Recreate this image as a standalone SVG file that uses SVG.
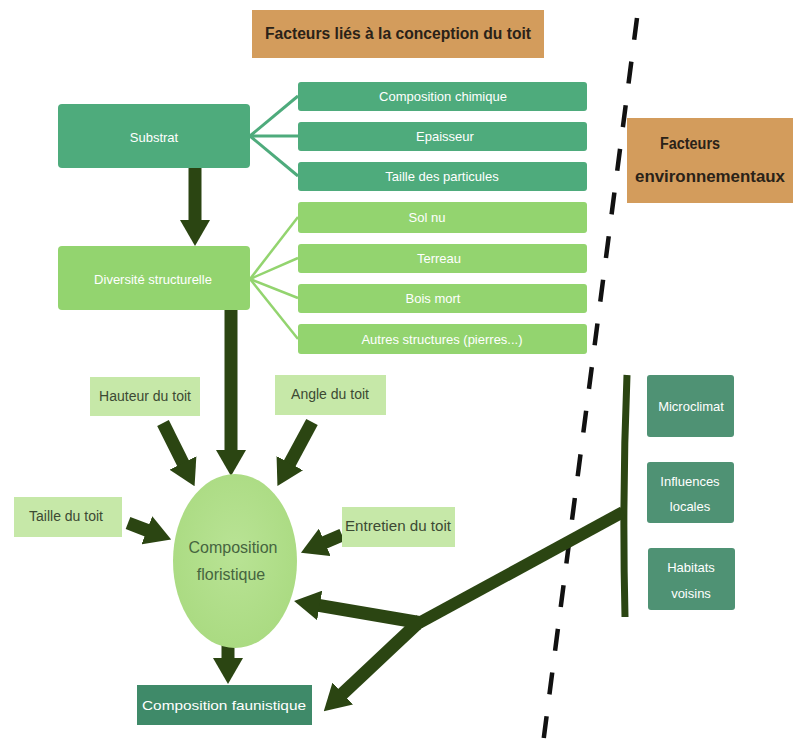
<svg xmlns="http://www.w3.org/2000/svg" width="793" height="744" viewBox="0 0 793 744">
<style>
.t{font-family:"Liberation Sans",Arial,sans-serif;text-anchor:middle}
.w{fill:#ffffff;font-size:13px}
.d{fill:#3c4a33;font-size:14px}
.b{fill:#2a2218;font-size:16px;font-weight:bold}
.teal{fill:#4eab7c}
.lg{fill:#93d46f}
.pg{fill:#c6e8a8}
.dk{fill:#3f8a69}
.env{fill:#4f9274}
.org{fill:#d39c5c}
.arr{stroke:#2b4512;stroke-width:13;fill:none;marker-end:url(#ah)}
</style>
<defs>
<marker id="ah" markerUnits="userSpaceOnUse" viewBox="0 -15 26 30" refX="1" refY="0" markerWidth="26" markerHeight="30" orient="auto">
<path d="M0,-15 L26,0 L0,15 z" fill="#2b4512"/>
</marker>
<radialGradient id="eg" cx="50%" cy="45%" r="60%">
<stop offset="0" stop-color="#b9e395"/>
<stop offset="1" stop-color="#a9da80"/>
</radialGradient>
</defs>
<rect width="793" height="744" fill="#ffffff"/>

<g id="dashed-divider">
<line x1="637" y1="18" x2="543" y2="744" stroke="#111" stroke-width="4.5" stroke-dasharray="22 22"/>
</g>

<g id="connectors">
<g stroke="#4eab7c" stroke-width="3" fill="none">
<line x1="250" y1="136" x2="298" y2="96"/>
<line x1="250" y1="136" x2="298" y2="136"/>
<line x1="250" y1="136" x2="298" y2="176"/>
</g>
<g stroke="#93d46f" stroke-width="2.5" fill="none">
<line x1="250" y1="279" x2="298" y2="217"/>
<line x1="250" y1="279" x2="298" y2="258"/>
<line x1="250" y1="279" x2="298" y2="298"/>
<line x1="250" y1="279" x2="298" y2="339"/>
</g>
<line class="arr" x1="195" y1="168" x2="195" y2="221"/>
<line class="arr" x1="231" y1="310" x2="231" y2="451"/>
<line class="arr" x1="163" y1="423" x2="183.4" y2="463.8"/>
<line class="arr" x1="312" y1="422" x2="289.3" y2="464.1"/>
<line class="arr" x1="128" y1="523" x2="147.8" y2="530.6"/>
<line class="arr" x1="342" y1="535" x2="323.9" y2="542.8"/>
<line class="arr" x1="228" y1="632" x2="228" y2="659"/>
<path d="M627,375 Q622,495 625,617" stroke="#2b4512" stroke-width="7" fill="none"/>
<line x1="623" y1="512" x2="419" y2="623" stroke="#2b4512" stroke-width="12"/>
<line class="arr" x1="422" y1="623" x2="318.7" y2="605.3"/>
<line class="arr" x1="421" y1="620" x2="342" y2="694.2"/>
</g>

<g id="title">
<rect class="org" x="252" y="10" width="292" height="48"/>
<text class="t b" x="398" y="39" textLength="266" lengthAdjust="spacingAndGlyphs">Facteurs liés à la conception du toit</text>
</g>

<g id="env-title">
<rect class="org" x="627" y="118" width="166" height="85"/>
<text class="t b" x="690" y="149" textLength="60" lengthAdjust="spacingAndGlyphs">Facteurs</text>
<text class="t b" x="710" y="182" textLength="150" lengthAdjust="spacingAndGlyphs">environnementaux</text>
</g>

<g id="substrat">
<rect class="teal" x="58" y="104" width="192" height="64" rx="4"/>
<text class="t w" x="154" y="142">Substrat</text>
</g>
<g id="composition-chimique">
<rect class="teal" x="298" y="82" width="289" height="29" rx="3"/>
<text class="t w" x="443" y="101">Composition chimique</text>
</g>
<g id="epaisseur">
<rect class="teal" x="298" y="122" width="289" height="29" rx="3"/>
<text class="t w" x="445" y="141">Epaisseur</text>
</g>
<g id="taille-particules">
<rect class="teal" x="298" y="162" width="289" height="29" rx="3"/>
<text class="t w" x="442" y="181">Taille des particules</text>
</g>

<g id="diversite">
<rect class="lg" x="58" y="246" width="192" height="64" rx="4"/>
<text class="t w" x="153" y="284">Diversité structurelle</text>
</g>
<g id="sol-nu">
<rect class="lg" x="298" y="202" width="289" height="31" rx="3"/>
<text class="t w" x="427" y="222">Sol nu</text>
</g>
<g id="terreau">
<rect class="lg" x="298" y="244" width="289" height="29" rx="3"/>
<text class="t w" x="439" y="263">Terreau</text>
</g>
<g id="bois-mort">
<rect class="lg" x="298" y="284" width="289" height="29" rx="3"/>
<text class="t w" x="433" y="303">Bois mort</text>
</g>
<g id="autres-structures">
<rect class="lg" x="298" y="324" width="289" height="30" rx="3"/>
<text class="t w" x="442" y="344">Autres structures (pierres...)</text>
</g>

<g id="hauteur-toit">
<rect class="pg" x="90" y="377" width="110" height="39"/>
<text class="t d" x="145" y="401">Hauteur du toit</text>
</g>
<g id="angle-toit">
<rect class="pg" x="275" y="375" width="111" height="40"/>
<text class="t d" x="330" y="399">Angle du toit</text>
</g>
<g id="taille-toit">
<rect class="pg" x="14" y="497" width="108" height="40"/>
<text class="t d" x="66" y="521">Taille du toit</text>
</g>
<g id="entretien-toit">
<rect class="pg" x="342" y="507" width="113" height="40"/>
<text class="t d" x="398" y="531" textLength="106" lengthAdjust="spacingAndGlyphs">Entretien du toit</text>
</g>

<g id="composition-floristique">
<ellipse cx="235" cy="561" rx="62" ry="87" fill="url(#eg)"/>
<text class="t" x="233" y="553" fill="#46653f" font-size="16">Composition</text>
<text class="t" x="231" y="580" fill="#46653f" font-size="16">floristique</text>
</g>

<g id="composition-faunistique">
<rect class="dk" x="137" y="685" width="175" height="40"/>
<text class="t w" x="224" y="710" font-size="14" textLength="164" lengthAdjust="spacingAndGlyphs">Composition faunistique</text>
</g>

<g id="microclimat">
<rect class="env" x="647" y="375" width="87" height="62" rx="3"/>
<text class="t w" x="691" y="411" font-size="14">Microclimat</text>
</g>
<g id="influences-locales">
<rect class="env" x="647" y="462" width="87" height="61" rx="3"/>
<text class="t w" x="690" y="486" font-size="14">Influences</text>
<text class="t w" x="690" y="511" font-size="14">locales</text>
</g>
<g id="habitats-voisins">
<rect class="env" x="648" y="548" width="87" height="62" rx="3"/>
<text class="t w" x="691" y="572" font-size="14">Habitats</text>
<text class="t w" x="691" y="598" font-size="14">voisins</text>
</g>
</svg>
